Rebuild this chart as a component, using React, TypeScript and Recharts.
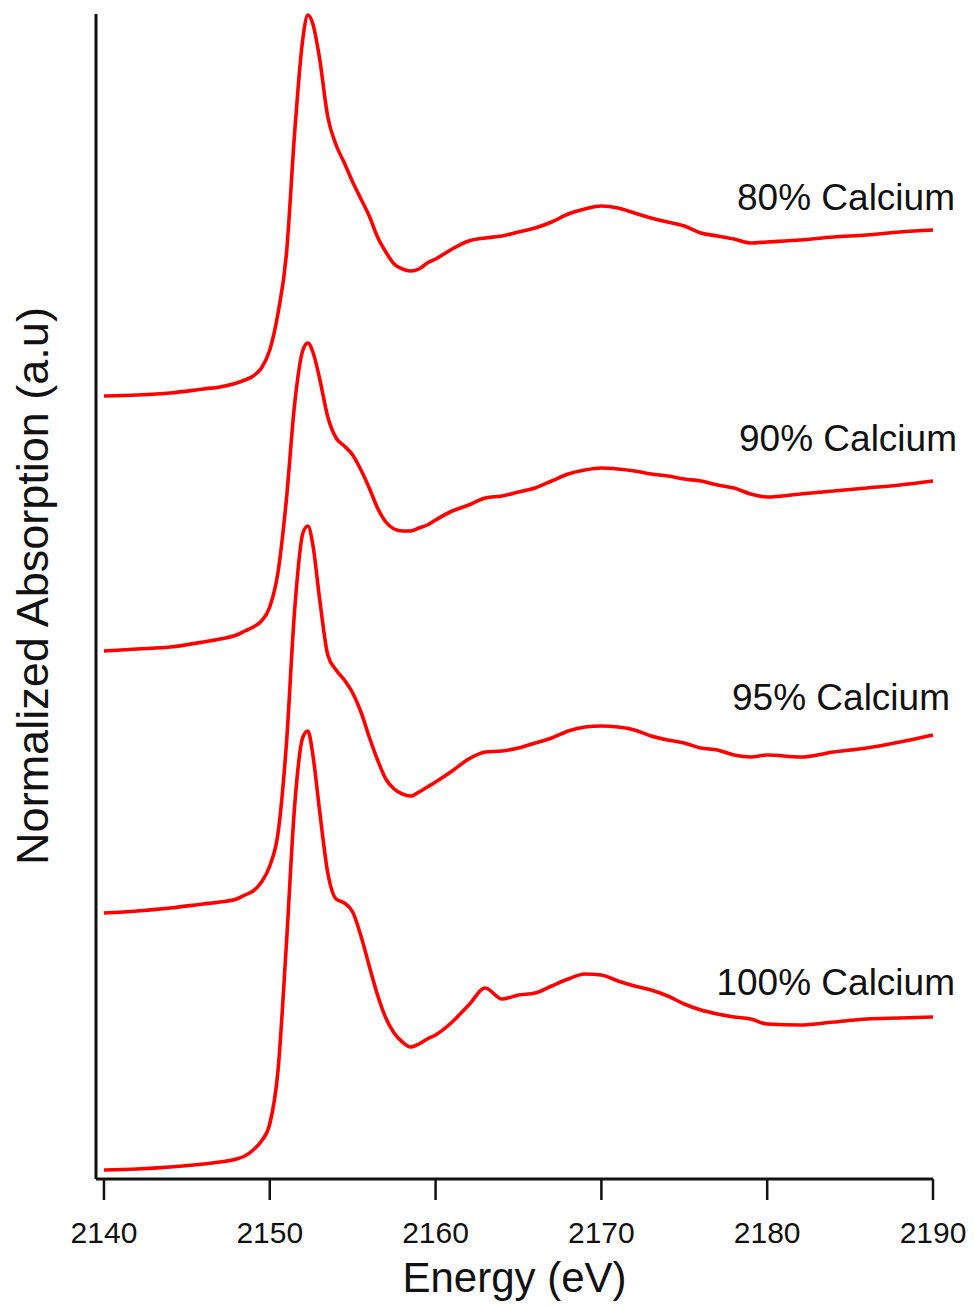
import { Line, LineChart, XAxis, YAxis } from "recharts";

// photon energy grid (eV)
const energy = [
  2140, 2142, 2144, 2146, 2147, 2148, 2148.5, 2149, 2149.5, 2150,
  2150.5, 2151, 2151.5, 2152, 2152.3, 2152.6, 2153, 2153.5, 2154, 2154.5,
  2155, 2155.5, 2156, 2156.5, 2157, 2157.5, 2158, 2158.5, 2159, 2159.5,
  2160, 2161, 2162, 2163, 2164, 2165, 2166, 2167, 2168, 2169, 2170,
  2171, 2172, 2173, 2174, 2175, 2176, 2177, 2178, 2179, 2180,
  2182, 2184, 2186, 2188, 2190,
];

// stacked normalized absorption (a.u.)
const abs80 = [
  7.83, 7.84, 7.86, 7.9, 7.92, 7.96, 7.99, 8.03, 8.11, 8.29,
  8.66, 9.24, 10.46, 11.41, 11.64, 11.55, 11.21, 10.62, 10.34, 10.16,
  9.97, 9.8, 9.63, 9.42, 9.27, 9.15, 9.1, 9.08, 9.1, 9.16,
  9.2, 9.3, 9.38, 9.41, 9.43, 9.47, 9.51, 9.57, 9.65, 9.7, 9.73,
  9.71, 9.66, 9.61, 9.57, 9.53, 9.46, 9.43, 9.4, 9.36, 9.37,
  9.39, 9.42, 9.44, 9.47, 9.49,
];
const abs90 = [
  5.28, 5.3, 5.32, 5.37, 5.4, 5.44, 5.48, 5.52, 5.58, 5.72,
  6.07, 6.79, 7.75, 8.29, 8.36, 8.27, 8.01, 7.62, 7.41, 7.33,
  7.24, 7.09, 6.91, 6.71, 6.57, 6.5, 6.48, 6.48, 6.51, 6.54,
  6.59, 6.68, 6.74, 6.81, 6.83, 6.87, 6.91, 6.98, 7.05, 7.09, 7.11,
  7.1, 7.08, 7.05, 7.03, 7.0, 6.98, 6.94, 6.91, 6.85, 6.82,
  6.85, 6.88, 6.91, 6.94, 6.98,
];
const abs95 = [
  2.66, 2.68, 2.71, 2.75, 2.77, 2.8, 2.84, 2.88, 2.97, 3.13,
  3.46, 4.34, 5.69, 6.46, 6.53, 6.34, 5.81, 5.24, 5.09, 4.99,
  4.86, 4.67, 4.42, 4.19, 4.0, 3.9, 3.85, 3.83, 3.87, 3.92,
  3.97, 4.08, 4.2, 4.27, 4.28, 4.31, 4.36, 4.41, 4.48, 4.52, 4.53,
  4.52, 4.49, 4.43, 4.39, 4.36, 4.31, 4.29, 4.24, 4.22, 4.24,
  4.22, 4.27, 4.31, 4.37, 4.44,
];
const abs100 = [
  0.09, 0.1, 0.12, 0.15, 0.17, 0.2, 0.23, 0.29, 0.38, 0.55,
  1.09, 2.34, 3.73, 4.42, 4.48, 4.24, 3.69, 3.06, 2.8, 2.76,
  2.67, 2.43, 2.13, 1.84, 1.61, 1.46, 1.37, 1.32, 1.35, 1.4,
  1.44, 1.57, 1.74, 1.91, 1.8, 1.84, 1.86, 1.93, 2.0, 2.05, 2.04,
  1.98, 1.93, 1.89, 1.83, 1.75, 1.69, 1.65, 1.62, 1.6, 1.55,
  1.54, 1.57, 1.6, 1.61, 1.62,
];

const seriesNames = ["80% Calcium", "90% Calcium", "95% Calcium", "100% Calcium"];
const xTicks = [2140, 2150, 2160, 2170, 2180, 2190];

const data = energy.map((e, i) => ({
  e,
  a80: abs80[i],
  a90: abs90[i],
  a95: abs95[i],
  a100: abs100[i],
}));

const FONT = "'Liberation Sans', Arial, Helvetica, sans-serif";
const RED = "#ff0000";

const series = [
  { key: "a80", name: seriesNames[0], dx: 22, dy: -20 },
  { key: "a90", name: seriesNames[1], dx: 24, dy: -30 },
  { key: "a95", name: seriesNames[2], dx: 17, dy: -25 },
  { key: "a100", name: seriesNames[3], dx: 22, dy: -22 },
];

function EndLabel({ x, y, index, name, dx, dy }: any) {
  if (index !== energy.length - 1) return null;
  return (
    <text x={x + dx} y={y + dy} textAnchor="end" fontSize={37} fontFamily={FONT} fill="#111">
      {name}
    </text>
  );
}

function XTick({ x, y, payload }: any) {
  return (
    <text x={x} y={y} dy={41} textAnchor="middle" fontSize={30} fontFamily={FONT} fill="#111">
      {payload.value}
    </text>
  );
}

export default function App() {
  return (
    <div style={{ position: "absolute", left: 0, top: 0, background: "#fff" }}>
      <LineChart width={974} height={1307} data={data} margin={{ top: 14, right: 41, bottom: 0, left: 0 }}>
        <XAxis
          dataKey="e"
          type="number"
          domain={[2139.52, 2190]}
          ticks={xTicks}
          tickSize={21}
          tickLine={{ stroke: "#111", strokeWidth: 2.5 }}
          axisLine={{ stroke: "#111", strokeWidth: 3 }}
          tick={<XTick />}
          height={128}
          label={(props: any) => {
            const vb = props.viewBox;
            return (
              <text x={vb.x + vb.width / 2} y={vb.y + 113} textAnchor="middle" fontSize={42} fontFamily={FONT} fill="#111">
                Energy (eV)
              </text>
            );
          }}
        />
        <YAxis
          type="number"
          domain={[0, 11.65]}
          tick={false}
          tickLine={false}
          width={96}
          axisLine={{ stroke: "#111", strokeWidth: 3 }}
          label={() => (
            <text x={48} y={586} transform="rotate(-90 48 586)" textAnchor="middle" fontSize={45} fontFamily={FONT} fill="#111">
              Normalized Absorption (a.u)
            </text>
          )}
        />
        {series.map((s) => (
          <Line
            key={s.key}
            dataKey={s.key}
            name={s.name}
            type="monotone"
            stroke={RED}
            strokeWidth={3.6}
            dot={false}
            isAnimationActive={false}
            label={(p: any) => <EndLabel {...p} name={s.name} dx={s.dx} dy={s.dy} />}
          />
        ))}
      </LineChart>
    </div>
  );
}
